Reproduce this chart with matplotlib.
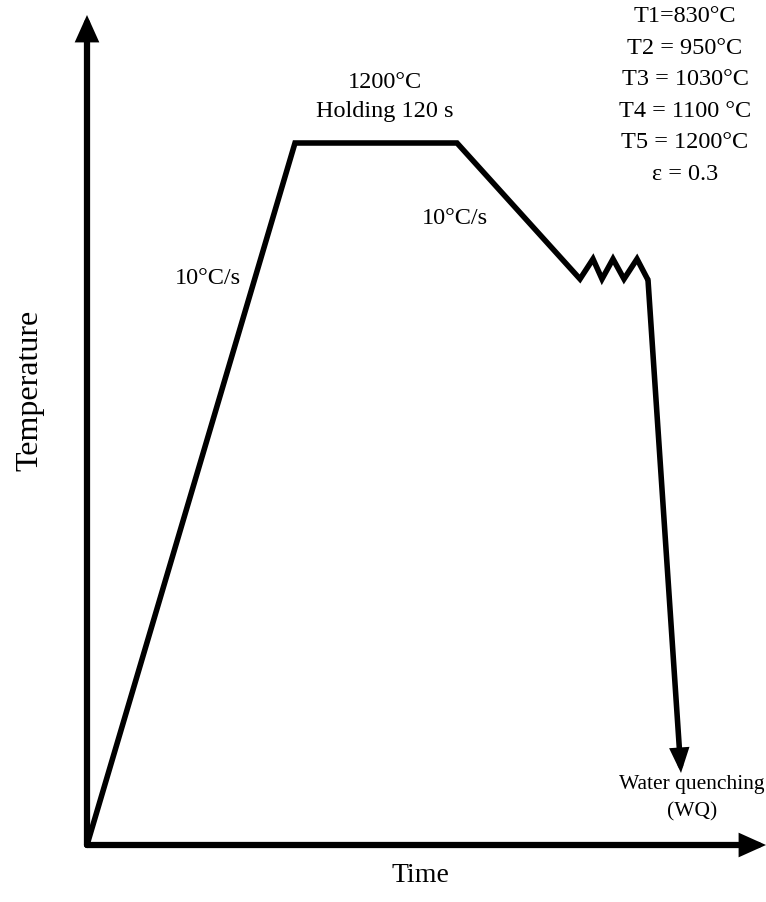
import matplotlib
matplotlib.use("Agg")
import matplotlib.pyplot as plt

plt.rcParams['font.family'] = ['Liberation Serif', 'DejaVu Serif']

# schematic thermal cycle (arbitrary units, origin at the axes corner)
time_pts = [0, 208, 370, 493, 506, 515, 526, 537, 550, 561]
temp_pts = [0, 702, 702, 566, 586, 566, 586, 566, 586, 565]
quench_end = (594, 72)

x_max, y_max = 679, 830

step_labels = ["T1=830°C", "T2 = 950°C", "T3 = 1030°C", "T4 = 1100 °C",
               "T5 = 1200°C", "ε = 0.3"]

fig = plt.figure(figsize=(7.66, 9.02), dpi=100)
ax = fig.add_axes([87 / 766, 57 / 902, x_max / 766, y_max / 902])
ax.set_xlim(0, x_max)
ax.set_ylim(0, y_max)
ax.axis('off')

# axes with arrow heads
arrow_kw = dict(arrowstyle='-|>,head_length=1.0,head_width=0.45', lw=4.5,
                color='black', shrinkA=0, shrinkB=0, mutation_scale=12,
                joinstyle='miter')
ax.annotate('', xy=(0, y_max), xytext=(0, 0), arrowprops=arrow_kw,
            annotation_clip=False)
ax.annotate('', xy=(x_max, 0), xytext=(0, 0), arrowprops=arrow_kw,
            annotation_clip=False)

ax.plot(time_pts, temp_pts, color='black', lw=4, solid_joinstyle='miter',
        solid_capstyle='butt', clip_on=False)
ax.annotate('', xy=quench_end, xytext=(time_pts[-1], temp_pts[-1]),
            arrowprops=dict(arrowstyle='-|>,head_length=1.0,head_width=0.4',
                            lw=4, color='black', shrinkA=0, shrinkB=0,
                            mutation_scale=11, joinstyle='miter'),
            annotation_clip=False)

fs = 17.5
ax.text(298, 748, "1200°C\nHolding 120 s", ha='center', va='center',
        fontsize=fs, linespacing=1.45)
ax.text(121, 567, "10°C/s", ha='center', va='center', fontsize=fs)
ax.text(368, 627, "10°C/s", ha='center', va='center', fontsize=fs)
for i, s in enumerate(step_labels):
    ax.text(598, 828 - i * 31.4, s, ha='center', va='center', fontsize=fs)
ax.text(605, 47, "Water quenching\n(WQ)", ha='center', va='center',
        fontsize=15.5, linespacing=1.6)

ax.text(333, -30, "Time", ha='center', va='center', fontsize=20)
ax.text(-57, 455, "Temperature", ha='center', va='center', rotation=90,
        fontsize=23)

fig.savefig("out.png", dpi=100)
